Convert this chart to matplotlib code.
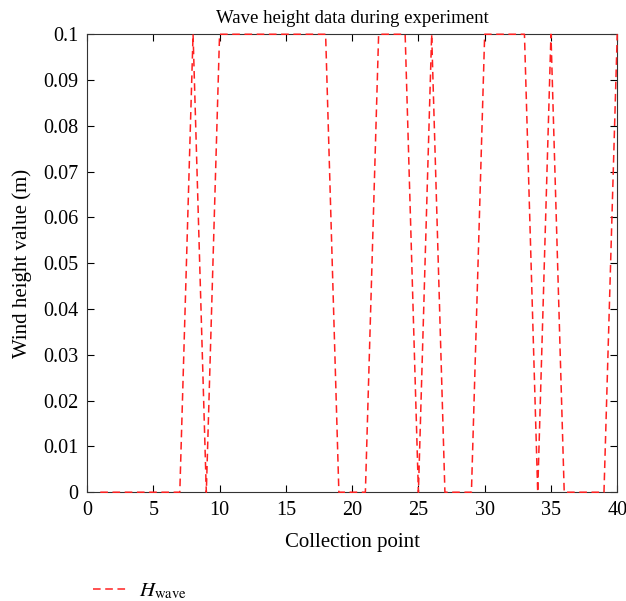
import numpy as np
import matplotlib
matplotlib.use('Agg')
import matplotlib.pyplot as plt

plt.rcParams['font.family'] = ['Liberation Serif', 'DejaVu Serif']
plt.rcParams['mathtext.fontset'] = 'stix'

# collection points and wave height values (m)
points = list(range(1, 41))
h_wave = [0, 0, 0, 0, 0, 0, 0, 0.1, 0, 0.1,
          0.1, 0.1, 0.1, 0.1, 0.1, 0.1, 0.1, 0.1, 0, 0,
          0, 0.1, 0.1, 0.1, 0, 0.1, 0, 0, 0, 0.1,
          0.1, 0.1, 0.1, 0, 0.1, 0, 0, 0, 0, 0.1]
xticks = [0, 5, 10, 15, 20, 25, 30, 35, 40]
yticks = [0, 0.01, 0.02, 0.03, 0.04, 0.05, 0.06, 0.07, 0.08, 0.09, 0.1]
yticklabels = ['0', '0.01', '0.02', '0.03', '0.04', '0.05', '0.06', '0.07', '0.08', '0.09', '0.1']

fig = plt.figure(figsize=(6.26, 6.01), dpi=100)
ax = fig.add_axes([0.139, 0.181, 0.847, 0.762])
ax.plot(points, h_wave, color='#ff2020', linestyle='--', linewidth=1.1,
        dashes=(5, 3), label=r'$H_{\mathrm{wave}}$', clip_on=False, zorder=3)
ax.set_xlim(0, 40)
ax.set_ylim(0, 0.1)
ax.set_xticks(xticks)
ax.set_yticks(yticks)
ax.set_yticklabels(yticklabels)
ax.tick_params(direction='in', top=True, right=True, labelsize=14.5, length=5, pad=6)
for s in ax.spines.values():
    s.set_color('#333333')
ax.set_title('Wave height data during experiment', fontsize=13.5, pad=8)
ax.set_xlabel('Collection point', fontsize=15, labelpad=10)
ax.set_ylabel('Wind height value (m)', fontsize=15, labelpad=8)

fig.legend(loc='lower left', bbox_to_anchor=(0.135, -0.015), frameon=False,
           fontsize=15, handlelength=1.7, handletextpad=0.5,
           borderaxespad=0.2, borderpad=0.2)

plt.savefig('out.png', dpi=100)
